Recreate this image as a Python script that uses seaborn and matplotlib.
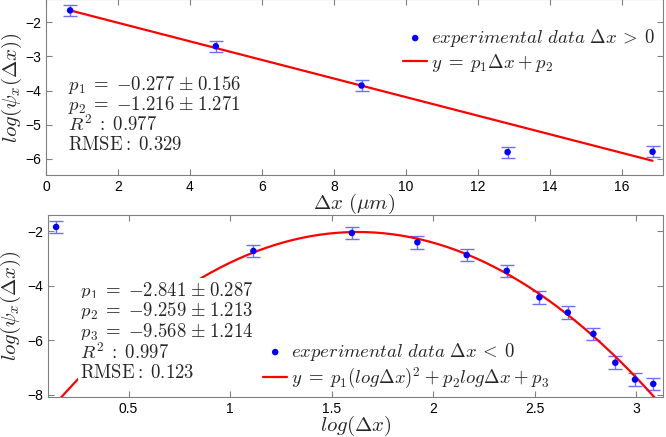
import numpy as np
import pandas as pd
import matplotlib
matplotlib.use("Agg")
import matplotlib.pyplot as plt
import seaborn as sns

# ---- top panel: dx > 0
dx_pos = [0.67, 4.72, 8.77, 12.83, 16.86]
psi_pos = [-1.65, -2.70, -3.85, -5.80, -5.79]
err_pos = [0.16, 0.16, 0.17, 0.16, 0.16]
lin_slope = -0.272
lin_icpt = -1.468

# ---- bottom panel: dx < 0 (log scale)
logdx_neg = [0.143, 1.115, 1.60, 1.923, 2.166, 2.363, 2.524, 2.664, 2.790, 2.898, 2.995, 3.085]
psi_neg = [-1.84, -2.72, -2.06, -2.40, -2.87, -3.45, -4.42, -4.98, -5.76, -6.82, -7.44, -7.60]
err_neg = [0.23] * 12
quad = [-2.841, 9.259, -9.568]

txt_top = ["$p_1\\;=\\;{-}0.277\\;{\\pm}\\;0.156$",
           "$p_2\\;=\\;{-}1.216\\;{\\pm}\\;1.271$",
           "$R^2\\;:\\;0.977$",
           "$\\mathrm{RMSE{:}}\\;0.329$"]
txt_bot = ["$p_1\\;=\\;{-}2.841\\;{\\pm}\\;0.287$",
           "$p_2\\;=\\;{-}9.259\\;{\\pm}\\;1.213$",
           "$p_3\\;=\\;{-}9.568\\;{\\pm}\\;1.214$",
           "$R^2\\;:\\;0.997$",
           "$\\mathrm{RMSE{:}}\\;0.123$"]

sns.set_style("ticks")
plt.rcParams['font.family'] = ['Liberation Sans', 'DejaVu Sans']
plt.rcParams['mathtext.fontset'] = 'cm'
plt.rcParams['axes.edgecolor'] = '#808080'
plt.rcParams['xtick.color'] = '#808080'
plt.rcParams['ytick.color'] = '#808080'
plt.rcParams['xtick.labelcolor'] = 'black'
plt.rcParams['ytick.labelcolor'] = 'black'

W, H = 666, 437
fig = plt.figure(figsize=(W / 100, H / 100), dpi=100)
ax1 = fig.add_axes([46 / W, (H - 175) / H, 617 / W, 175 / H + 0.002])
ax2 = fig.add_axes([48 / W, (H - 397) / H, 615 / W, 182 / H])

def style(ax):
    ax.tick_params(direction='in', top=True, right=True, length=4, width=0.8, labelsize=10)
    for s in ax.spines.values():
        s.set_linewidth(0.8)

# top
df1 = pd.DataFrame({'x': dx_pos, 'y': psi_pos})
ax1.errorbar(dx_pos, psi_pos, yerr=err_pos, fmt='none', ecolor='#6f6fff', elinewidth=1, capsize=5, capthick=1, zorder=2)
xl = np.linspace(dx_pos[0], dx_pos[-1], 50)
sns.lineplot(x=xl, y=lin_slope * xl + lin_icpt, color='red', lw=1.6, ax=ax1, zorder=3,
             label='$y\\;=\\;p_1\\Delta x\\:+\\:p_2$')
sns.scatterplot(data=df1, x='x', y='y', color='blue', s=22, edgecolor='none', ax=ax1, zorder=4,
                label='$experimental\\ data\\ \\Delta x\\:>\\:0$')
ax1.set_xlim(0, 17.15)
ax1.set_ylim(-6.47, -1.32)
ax1.set_xticks(range(0, 17, 2))
ax1.set_yticks([-6, -5, -4, -3, -2])
ax1.set_xlabel('$\\Delta x\\ (\\mu m)$', fontsize=15)
ax1.xaxis.set_label_coords(0.5, -0.095)
ax1.set_ylabel('$log(\\psi_x(\\Delta x))$', fontsize=15)
ax1.yaxis.set_label_coords(-0.036, 0.5)
h, l = ax1.get_legend_handles_labels()
ax1.legend(h[::-1], l[::-1], loc='upper left', bbox_to_anchor=(403 / W, 1 - 27 / H), bbox_transform=fig.transFigure,
           frameon=False, fontsize=13.5, handlelength=1.3, handletextpad=0.2, labelspacing=0.15,
           borderpad=0, borderaxespad=0)
for i, t in enumerate(txt_top):
    ax1.text(68 / W, 1 - (85 + 20 * i) / H, t, transform=fig.transFigure, fontsize=13.5,
             va='center', ha='left', zorder=5)
style(ax1)

# bottom
df2 = pd.DataFrame({'x': logdx_neg, 'y': psi_neg})
ax2.errorbar(logdx_neg, psi_neg, yerr=err_neg, fmt='none', ecolor='#6f6fff', elinewidth=1, capsize=5, capthick=1, zorder=2)
xq = np.linspace(0.14, 3.12, 200)
sns.lineplot(x=xq, y=np.polyval(quad, xq), color='red', lw=1.6, ax=ax2, zorder=3,
             label='$y\\;=\\;p_1(log\\Delta x)^2\\:+\\:p_2 log\\Delta x\\:+\\:p_3$')
sns.scatterplot(data=df2, x='x', y='y', color='blue', s=22, edgecolor='none', ax=ax2, zorder=4,
                label='$experimental\\ data\\ \\Delta x\\:<\\:0$')
ax2.set_xlim(0.103, 3.133)
ax2.set_ylim(-8.08, -1.40)
ax2.set_xticks([0.5, 1, 1.5, 2, 2.5, 3])
ax2.set_xticklabels(['0.5', '1', '1.5', '2', '2.5', '3'])
ax2.set_yticks([-8, -6, -4, -2])
ax2.set_xlabel('$log(\\Delta x)$', fontsize=15)
ax2.xaxis.set_label_coords(0.5, -0.09)
ax2.set_ylabel('$log(\\psi_x(\\Delta x))$', fontsize=15)
ax2.yaxis.set_label_coords(-0.04, 0.5)
h, l = ax2.get_legend_handles_labels()
ax2.legend(h[::-1], l[::-1], loc='upper left', bbox_to_anchor=(263 / W, 1 - 341 / H), bbox_transform=fig.transFigure,
           frameon=False, fontsize=13.5, handlelength=1.3, handletextpad=0.2, labelspacing=0.15,
           borderpad=0, borderaxespad=0)
for i, t in enumerate(txt_bot):
    ax2.text(80 / W, 1 - (291 + 20.5 * i) / H, t, transform=fig.transFigure, fontsize=13.5,
             va='center', ha='left', zorder=5,
             bbox=dict(facecolor='white', edgecolor='none', pad=1.5))
style(ax2)

fig.savefig('out.png', dpi=100)
